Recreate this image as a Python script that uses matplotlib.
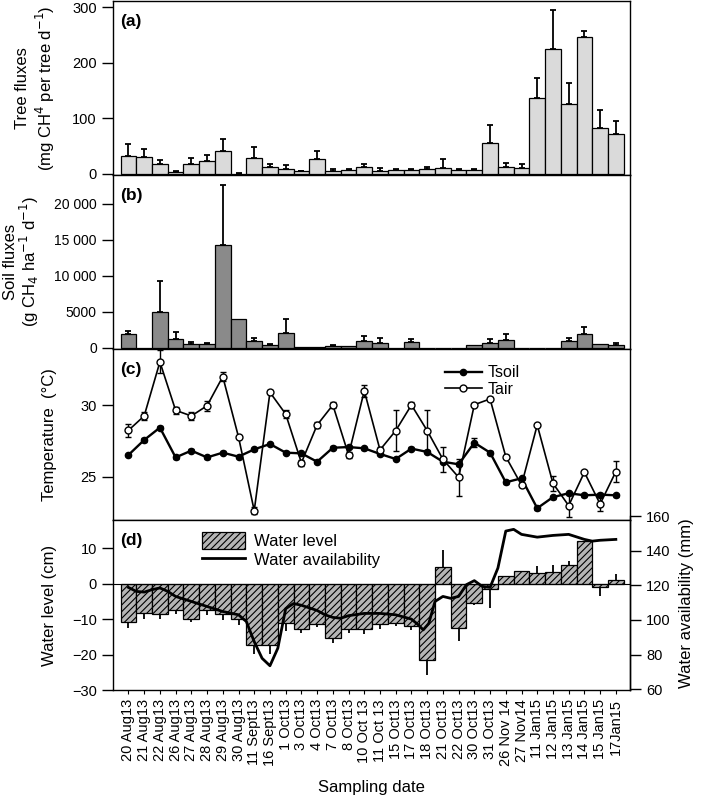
import numpy as np
import matplotlib
matplotlib.use('Agg')
import matplotlib.pyplot as plt

plt.rcParams['font.family'] = ['Liberation Sans', 'DejaVu Sans']
plt.rcParams['hatch.linewidth'] = 0.8

# Datos
dates = ['20 Aug13', '21 Aug13', '22 Aug13', '26 Aug13', '27 Aug13', '28 Aug13',
         '29 Aug13', '30 Aug13', '11 Sept13', '16 Sept13', '1 Oct13', '3 Oct13',
         '4 Oct13', '7 Oct13', '8 Oct13', '10 Oct 13', '11 Oct 13', '15 Oct13',
         '17 Oct13', '18 Oct13', '21 Oct13', '22 Oct13', '30 Oct13', '31 Oct13',
         '26 Nov 14', '27 Nov14', '11 Jan15', '12 Jan15', '13 Jan15', '14 Jan15',
         '15 Jan15', '17Jan15']

tree_flux = [33, 31, 17.5, 3, 17.5, 23, 41, 0.5, 29.4, 12, 9, 5, 27.6, 5, 6.5, 12,
             5.5, 7.8, 6.5, 9.6, 10, 6.5, 7.2, 56.4, 12, 10.8, 136.4, 224.6, 125.6,
             246.8, 82.9, 71.5]
tree_err = [20.5, 13.5, 7.2, 2, 11.5, 10.6, 21.5, 1.5, 18.1, 5.5, 6.6, 1, 14.4, 4.6,
            1.5, 5.5, 5.3, 1.2, 3.1, 3.4, 17.6, 1.5, 2.4, 31.3, 8.4, 7.8, 35.4, 70.4,
            37.8, 10.2, 31.9, 23.5]

soil_flux = [1900, 0, 4930, 1170, 560, 510, 14340, 3950, 890, 400, 2040, 30, 60, 200,
             150, 930, 700, 0, 740, 0, 0, 0, 370, 600, 1070, 0, 0, 0, 980, 1900, 460, 370]
soil_err = [470, 0, 4350, 970, 280, 190, 8350, 0, 460, 100, 1950, 0, 0, 120, 0, 740,
            690, 0, 460, 0, 0, 0, 0, 560, 790, 0, 0, 0, 320, 1020, 0, 230]
soil_ticks = [0, 5000, 10000, 15000, 20000]
soil_ticklabels = ['0', '5000', '10 000', '15 000', '20 000']

tair = [28.24, 29.24, 32.99, 29.63, 29.24, 29.95, 31.97, 27.78, 22.66, 30.88, 29.37,
        25.99, 28.61, 30.0, 26.53, 30.99, 26.88, 28.22, 30.0, 28.22, 26.23, 24.98,
        30.02, 30.42, 26.41, 24.44, 28.61, 24.56, 23.01, 25.33, 23.12, 25.37]
tair_err = [0.45, 0.25, 0.8, 0.25, 0.3, 0.35, 0.3, 0.1, 0.25, 0.15, 0.3, 0.2, 0.2, 0.2,
            0.2, 0.4, 0.2, 1.4, 0.2, 1.4, 0.85, 1.3, 0.1, 0.15, 0.1, 0.15, 0.1, 0.5,
            0.8, 0.1, 0.5, 0.75]
tsoil = [26.53, 27.57, 28.43, 26.36, 26.83, 26.36, 26.69, 26.41, 26.92, 27.29, 26.69,
         26.64, 26.06, 27.03, 27.08, 26.99, 26.6, 26.25, 26.97, 26.74, 26.06, 25.88,
         27.38, 26.69, 24.63, 24.91, 22.83, 23.6, 23.87, 23.73, 23.77, 23.73]
tsoil_err = [0.1, 0.15, 0.1, 0.1, 0.1, 0.1, 0.1, 0.1, 0.1, 0.1, 0.1, 0.1, 0.1, 0.1,
             0.1, 0.1, 0.1, 0.1, 0.1, 0.1, 0.1, 0.1, 0.3, 0.1, 0.1, 0.1, 0.1, 0.1,
             0.1, 0.1, 0.1, 0.1]

water_level = [-10.8, -8.3, -8.4, -7.4, -10.0, -7.5, -8.5, -10.0, -17.2, -17.2, -11.1,
               -12.9, -11.3, -15.3, -12.8, -12.8, -11.3, -11.0, -11.8, -21.4, 4.8,
               -12.5, -5.4, -1.5, 2.2, 3.7, 3.0, 3.3, 5.3, 12.2, -1.0, 1.0]
water_err = [1.7, 1.7, 1.6, 1.2, 0.9, 1.2, 1.6, 1.6, 2.5, 2.5, 2.3, 1.1, 1.0, 1.4, 1.1,
             1.4, 1.5, 1.0, 1.2, 4.3, 4.6, 3.7, 0.5, 5.3, 0, 0, 1.9, 1.9, 1.1, 0, 2.4, 1.8]

# disponibilidad de agua (posicion en fechas)
wa_pos = [0, 0.5, 1, 1.5, 2, 2.5, 3, 4, 5, 6, 7, 7.5, 8, 8.5, 9, 9.5, 10, 10.5, 11,
          11.5, 12, 12.5, 13, 13.5, 14, 15, 16, 17, 18, 18.4, 18.75, 19.1, 19.5, 20,
          20.5, 21, 21.5, 22, 22.5, 23, 23.5, 24, 24.5, 25, 26, 27, 28, 29, 29.5, 30, 31]
wa_mm = [118.8, 116.5, 116.1, 117.5, 118.5, 116.5, 113.6, 110.7, 107.8, 104.9, 103,
         99.1, 87.5, 77.9, 73.6, 83.7, 106.5, 109.5, 108.5, 107, 105.5, 103, 101.5,
         101, 102.5, 103.8, 103.8, 103, 100.5, 97.5, 94.3, 98, 110.7, 113.6, 112.5,
         113.6, 120.4, 122.7, 119.4, 118.8, 130, 151.3, 152.3, 149.4, 147.8, 148.8,
         149.4, 146.5, 145.5, 146, 146.5]

x = np.arange(len(dates))
tree_err = np.array(tree_err)
soil_err = np.array(soil_err)
water_level = np.array(water_level)
water_err = np.array(water_err)

fig = plt.figure(figsize=(7.09, 8.06), dpi=100)
L, W = 0.159, 0.730
ax_a = fig.add_axes([L, 0.7829, W, 0.2159])
ax_b = fig.add_axes([L, 0.5670, W, 0.2159])
ax_c = fig.add_axes([L, 0.3548, W, 0.2122])
ax_d = fig.add_axes([L, 0.1439, W, 0.2109])
ax_r = fig.add_axes([L, 0.1439, W, 0.2159])

for ax in [ax_a, ax_b, ax_c, ax_d]:
    ax.set_xlim(-1.0, 31.92)
    ax.set_xticks(x)
    ax.tick_params(axis='x', direction='out', length=3, width=0.8)
    ax.tick_params(axis='y', direction='out', length=8, width=1, labelsize=10.5)
    ax.yaxis.set_label_coords(-0.108, 0.5)
    for s in ax.spines.values():
        s.set_linewidth(1)
for ax in [ax_a, ax_b, ax_c]:
    ax.set_xticklabels([])

# (a) Flujos de arboles
ax_a.bar(x, tree_flux, width=1.0, color='#dadada', edgecolor='black', linewidth=0.9)
ax_a.errorbar(x, tree_flux, yerr=[np.zeros_like(tree_err), tree_err], fmt='none',
              ecolor='black', elinewidth=1.3, capsize=2.5, capthick=1.3)
ax_a.set_ylim(-2, 311)
ax_a.set_yticks([0, 100, 200, 300])
ax_a.set_ylabel('Tree fluxes\n(mg CH$^4$ per tree d$^{-1}$)', fontsize=12)
ax_a.text(0.015, 0.88, '(a)', transform=ax_a.transAxes, fontsize=12.5, fontweight='bold', va='center')

# (b) Flujos del suelo
ax_b.bar(x, soil_flux, width=1.0, color='#8a8a8a', edgecolor='black', linewidth=0.9)
m = soil_err > 0
ax_b.errorbar(x[m], np.array(soil_flux)[m], yerr=[np.zeros(m.sum()), soil_err[m]],
              fmt='none', ecolor='black', elinewidth=1.3, capsize=2.5, capthick=1.3)
ax_b.set_ylim(-200, 24040)
ax_b.set_yticks(soil_ticks)
ax_b.set_yticklabels(soil_ticklabels)
ax_b.tick_params(axis='y', labelsize=10)
ax_b.set_ylabel('Soil fluxes\n(g CH$_4$ ha$^{-1}$ d$^{-1}$)', fontsize=12, linespacing=1.0)
ax_b.yaxis.set_label_coords(-0.138, 0.5)
ax_b.text(0.015, 0.88, '(b)', transform=ax_b.transAxes, fontsize=12.5, fontweight='bold', va='center')

# (c) Temperatura
ax_c.errorbar(x, tsoil, yerr=tsoil_err, fmt='none', ecolor='black', capsize=2.5, elinewidth=1)
ax_c.errorbar(x, tair, yerr=tair_err, fmt='none', ecolor='black', capsize=2.5, elinewidth=1)
ax_c.plot(x, tsoil, color='black', marker='o', ms=4.5, lw=1.7, mfc='black', label='Tsoil')
ax_c.plot(x, tair, color='black', marker='o', ms=5, lw=1.2, mfc='white', mew=1, label='Tair')
ax_c.set_ylim(22.01, 33.89)
ax_c.set_yticks([25, 30])
ax_c.set_ylabel('Temperature  (°C)', fontsize=12)
ax_c.text(0.015, 0.88, '(c)', transform=ax_c.transAxes, fontsize=12.5, fontweight='bold', va='center')
ax_c.legend(loc='upper left', bbox_to_anchor=(0.62, 0.97), frameon=False, fontsize=11.5,
            handlelength=2.3, handletextpad=0.4, labelspacing=0.1, borderpad=0.2)

# (d) Nivel de agua y disponibilidad
lower = np.where(water_level < 0, water_err, 0)
upper = np.where(water_level > 0, water_err, 0)
ax_d.bar(x, water_level, width=1.0, color='#b5b5b5', edgecolor='black', linewidth=0.9,
         hatch='/////', label='Water level')
ax_d.errorbar(x, water_level, yerr=[lower, upper], fmt='none', ecolor='black',
              elinewidth=1.3, capsize=0)
ax_d.axhline(0, color='black', lw=0.8)
ax_d.set_ylim(-30, 18)
ax_d.set_yticks([-30, -20, -10, 0, 10])
ax_d.set_yticklabels(['\u221230', '\u221220', '\u221210', '0', '10'])
ax_d.set_ylabel('Water level (cm)', fontsize=12)
ax_d.set_xticklabels(dates, rotation=90, fontsize=10.5)
ax_d.set_xlabel('Sampling date', fontsize=12, labelpad=10)
ax_d.text(0.015, 0.88, '(d)', transform=ax_d.transAxes, fontsize=12.5, fontweight='bold', va='center')

line, = ax_r.plot(wa_pos, wa_mm, color='black', lw=2, label='Water availability')
ax_r.set_xlim(-1.0, 31.92)
ax_r.set_ylim(59.6, 160)
ax_r.patch.set_visible(False)
for s in ['left', 'top', 'bottom']:
    ax_r.spines[s].set_visible(False)
ax_r.spines['right'].set_linewidth(1)
ax_r.xaxis.set_visible(False)
ax_r.yaxis.tick_right()
ax_r.yaxis.set_label_position('right')
ax_r.set_yticks([60, 80, 100, 120, 140, 160])
ax_r.tick_params(axis='y', direction='out', length=8, width=1, labelsize=10.5)
ax_r.set_ylabel('Water availability (mm)', fontsize=12, labelpad=6)

h1, l1 = ax_d.get_legend_handles_labels()
ax_d.legend(h1 + [line], l1 + ['Water availability'], loc='upper left',
            bbox_to_anchor=(0.15, 1.0), frameon=False, fontsize=12,
            handlelength=2.6, handleheight=1.2, handletextpad=0.5, labelspacing=0.1,
            borderpad=0.2)

fig.savefig('out.png', dpi=100)
